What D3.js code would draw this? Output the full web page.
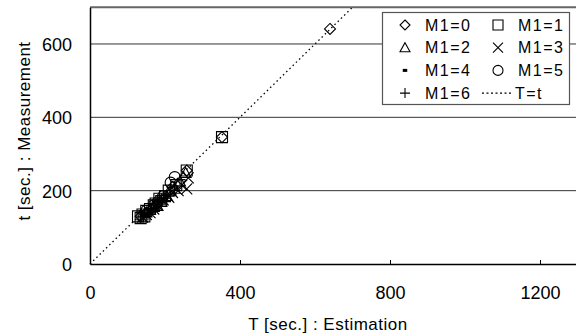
<!DOCTYPE html>
<html>
<head>
<meta charset="utf-8">
<script src="https://cdn.jsdelivr.net/npm/d3@7"></script>
<style>
  body { margin: 0; background: #fff; }
  text { font-family: "Liberation Sans", Arial, sans-serif; fill: #000; }
</style>
</head>
<body>
<svg id="chart"></svg>
<script>
// estimation T vs measurement t, grouped by M1
const groups = ['M1=0', 'M1=1', 'M1=2', 'M1=3', 'M1=4', 'M1=5', 'M1=6']
const m1_0 = [[640, 641], [352, 346], [258, 255], [220, 210], [180, 165], [150, 140], [135, 130], [165, 150]]
const m1_1 = [[352, 346], [258, 255], [230, 215], [210, 200], [200, 185], [185, 178], [175, 165], [160, 150], [140, 135], [128, 130], [150, 145], [170, 160], [135, 125], [145, 130], [190, 172]]
const m1_2 = [[255, 248], [240, 225], [225, 205], [215, 200], [190, 170], [170, 155], [150, 140], [160, 148], [180, 158], [205, 185]]
const m1_3 = [[262, 235], [245, 215], [235, 200], [220, 195], [195, 175], [170, 150], [150, 135], [180, 160], [140, 128], [258, 205], [210, 182], [160, 140]]
const m1_4 = [[200, 180], [160, 145], [140, 132], [175, 158], [188, 168]]
const m1_5 = [[226, 237], [215, 222], [195, 185], [170, 160], [150, 145], [180, 168]]
const m1_6 = [[240, 230], [205, 190], [180, 170], [155, 140], [135, 128], [165, 150], [190, 175], [225, 210]]
const seriesData = [m1_0, m1_1, m1_2, m1_3, m1_4, m1_5, m1_6]
const xTicks = [0, 400, 800, 1200]
const yTicks = [0, 200, 400, 600]

const W = 576, H = 336
const svg = d3.select('#chart').attr('width', W).attr('height', H)

const x = d3.scaleLinear().domain([0, 1400]).range([90, 615])
const y = d3.scaleLinear().domain([0, 700]).range([264, 7.3])

// grid lines
svg.append('g')
    .selectAll('line')
    .data(yTicks.filter(d => d > 0))
    .enter()
    .append('line')
    .attr('x1', x(0)).attr('x2', W)
    .attr('y1', d => y(d)).attr('y2', d => y(d))
    .attr('stroke', '#333').attr('stroke-width', 1)

// top border
svg.append('line')
    .attr('x1', x(0)).attr('x2', W)
    .attr('y1', y(700)).attr('y2', y(700))
    .attr('stroke', '#666').attr('stroke-width', 2)

// axes
const xAxis = d3.axisBottom(x).tickValues(xTicks).tickFormat(d3.format('d'))
    .tickSizeInner(-4).tickSizeOuter(0).tickPadding(22)
const gx = svg.append('g').attr('transform', `translate(0, ${y(0)})`).call(xAxis)
gx.select('.domain').attr('stroke', '#000').attr('stroke-width', 1.5)
gx.selectAll('text').style('font-size', '18px')

const yAxis = d3.axisLeft(y).tickValues(yTicks).tickSize(0).tickPadding(18)
const gy = svg.append('g').attr('transform', `translate(${x(0)}, 0)`).call(yAxis)
gy.select('.domain').attr('stroke', '#000').attr('stroke-width', 1.5)
gy.selectAll('text').style('font-size', '18px').attr('dy', '0.36em')

// axis titles
svg.append('text')
    .attr('x', 328).attr('y', 330)
    .attr('text-anchor', 'middle')
    .style('font-size', '17px').style('letter-spacing', '0.5px')
    .text('T [sec.] : Estimation')
svg.append('text')
    .attr('transform', 'translate(30, 131) rotate(-90)')
    .attr('text-anchor', 'middle')
    .style('font-size', '17px').style('letter-spacing', '0.5px')
    .text('t [sec.] : Measurement')

// T = t reference line
svg.append('line')
    .attr('x1', x(0)).attr('y1', y(0))
    .attr('x2', x(700)).attr('y2', y(700))
    .attr('stroke', '#000').attr('stroke-width', 1.3)
    .attr('stroke-dasharray', '1.5,3')

// marker shapes
const symbolFor = (i, s) => {
    const h = s / 2
    if (i === 0) return `M0,${-h}L${h},0L0,${h}L${-h},0Z`
    if (i === 1) return `M${-h},${-h}H${h}V${h}H${-h}Z`
    if (i === 2) return `M0,${-h}L${h},${h * 0.8}H${-h}Z`
    if (i === 3) return `M${-h},${-h}L${h},${h}M${h},${-h}L${-h},${h}`
    if (i === 4) return `M${-h * 0.45},0H${h * 0.45}`
    if (i === 5) return `M${h},0A${h},${h} 0 1,1 ${-h},0A${h},${h} 0 1,1 ${h},0Z`
    return `M${-h},0H${h}M0,${-h}V${h}`
}

const plot = svg.append('g')
seriesData.forEach((arr, i) => {
    plot.selectAll(null)
        .data(arr)
        .enter()
        .append('path')
        .attr('transform', d => `translate(${x(d[0])}, ${y(d[1])})`)
        .attr('d', symbolFor(i, 11))
        .attr('fill', 'none')
        .attr('stroke', '#000')
        .attr('stroke-width', i === 4 ? 3 : 1.1)
})

// legend
const lg = svg.append('g')
lg.append('rect')
    .attr('x', 382.5).attr('y', 12.5).attr('width', 187).attr('height', 92)
    .attr('fill', '#fff').attr('stroke', '#555').attr('stroke-width', 1.2)

const items = groups.concat(['T=t'])
items.forEach((name, i) => {
    const col = i % 2, row = Math.floor(i / 2)
    const sx = col === 0 ? 405 : 498
    const cy = 25 + row * 22.7
    if (i < 7) {
        lg.append('path')
            .attr('transform', `translate(${sx}, ${cy})`)
            .attr('d', symbolFor(i, 10))
            .attr('fill', 'none').attr('stroke', '#000')
            .attr('stroke-width', i === 4 ? 3 : 1.1)
    } else {
        lg.append('line')
            .attr('x1', 482).attr('x2', 512).attr('y1', cy).attr('y2', cy)
            .attr('stroke', '#000').attr('stroke-width', 1.3)
            .attr('stroke-dasharray', '2,2.5')
    }
    lg.append('text')
        .attr('x', i < 7 ? sx + 20 : 515)
        .attr('y', cy).attr('dy', '0.36em')
        .style('font-size', '16px').style('letter-spacing', '1.5px')
        .text(name)
})
</script>
</body>
</html>
